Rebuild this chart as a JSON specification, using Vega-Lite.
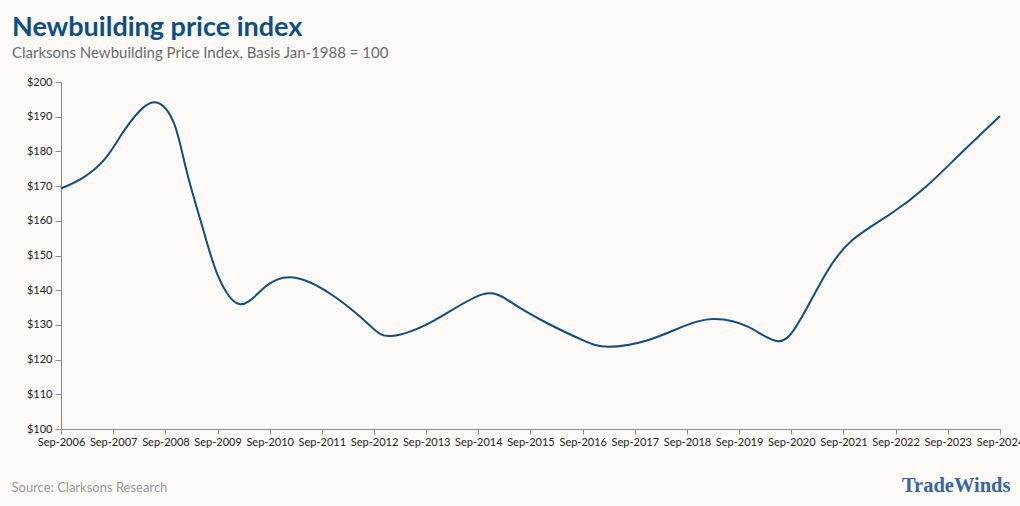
{
  "$schema": "https://vega.github.io/schema/vega-lite/v6.json",
  "autosize": {"type": "none"},
  "width": 939,
  "height": 347,
  "padding": {"left": 61, "top": 82, "right": 20, "bottom": 77},
  "background": "#fdf9f7",
  "title": {
    "text": "Newbuilding price index",
    "subtitle": "Clarksons Newbuilding Price Index, Basis Jan-1988 = 100",
    "anchor": "start",
    "frame": "group",
    "dx": -49,
    "offset": 14,
    "font": "Lato",
    "fontSize": 27,
    "fontWeight": "bold",
    "color": "#0b4f84",
    "subtitleFont": "Lato",
    "subtitleFontSize": 15,
    "subtitleColor": "#6b6b6b",
    "subtitlePadding": 4
  },
  "data": {
    "values": [
      {"date": "2006-09-01T00:00:00", "index": 169.3},
      {"date": "2007-02-01T00:00:00", "index": 172.4},
      {"date": "2007-07-01T00:00:00", "index": 177.6},
      {"date": "2007-11-01T00:00:00", "index": 185.0},
      {"date": "2008-03-01T00:00:00", "index": 191.5},
      {"date": "2008-07-01T00:00:00", "index": 194.1},
      {"date": "2008-11-01T00:00:00", "index": 188.0},
      {"date": "2009-02-01T00:00:00", "index": 173.6},
      {"date": "2009-06-01T00:00:00", "index": 156.3},
      {"date": "2009-09-01T00:00:00", "index": 144.5},
      {"date": "2010-02-01T00:00:00", "index": 136.0},
      {"date": "2010-08-01T00:00:00", "index": 141.0},
      {"date": "2011-03-01T00:00:00", "index": 143.6},
      {"date": "2011-12-01T00:00:00", "index": 138.1},
      {"date": "2012-08-01T00:00:00", "index": 129.9},
      {"date": "2013-01-01T00:00:00", "index": 126.8},
      {"date": "2013-11-01T00:00:00", "index": 131.4},
      {"date": "2014-10-01T00:00:00", "index": 138.8},
      {"date": "2015-05-01T00:00:00", "index": 136.2},
      {"date": "2016-01-01T00:00:00", "index": 130.4},
      {"date": "2016-09-01T00:00:00", "index": 125.6},
      {"date": "2017-03-01T00:00:00", "index": 123.7},
      {"date": "2017-12-01T00:00:00", "index": 125.6},
      {"date": "2018-08-01T00:00:00", "index": 129.5},
      {"date": "2019-03-01T00:00:00", "index": 131.7},
      {"date": "2019-11-01T00:00:00", "index": 129.5},
      {"date": "2020-06-01T00:00:00", "index": 125.3},
      {"date": "2020-11-01T00:00:00", "index": 131.4},
      {"date": "2021-05-01T00:00:00", "index": 144.8},
      {"date": "2021-11-01T00:00:00", "index": 154.4},
      {"date": "2022-08-01T00:00:00", "index": 162.1},
      {"date": "2023-04-01T00:00:00", "index": 169.8},
      {"date": "2023-12-01T00:00:00", "index": 179.4},
      {"date": "2024-09-01T00:00:00", "index": 190.2}
    ]
  },
  "config": {
    "view": {"stroke": null},
    "axis": {
      "grid": false,
      "domainColor": "#8a8a8a",
      "tickColor": "#8a8a8a",
      "labelColor": "#222222",
      "labelFont": "Lato",
      "labelFontSize": 11
    }
  },
  "resolve": {"axis": {"y": "independent"}},
  "layer": [
    {
      "mark": {"type": "line", "interpolate": "natural", "color": "#0e4e80", "strokeWidth": 2},
      "encoding": {
        "x": {
          "field": "date",
          "type": "temporal",
          "scale": {"domain": [{"year": 2006, "month": 9, "date": 1}, {"year": 2024, "month": 9, "date": 1}], "nice": false},
          "axis": {
            "values": [
              {"year": 2006, "month": 9, "date": 1}, {"year": 2007, "month": 9, "date": 1}, {"year": 2008, "month": 9, "date": 1},
              {"year": 2009, "month": 9, "date": 1}, {"year": 2010, "month": 9, "date": 1}, {"year": 2011, "month": 9, "date": 1},
              {"year": 2012, "month": 9, "date": 1}, {"year": 2013, "month": 9, "date": 1}, {"year": 2014, "month": 9, "date": 1},
              {"year": 2015, "month": 9, "date": 1}, {"year": 2016, "month": 9, "date": 1}, {"year": 2017, "month": 9, "date": 1},
              {"year": 2018, "month": 9, "date": 1}, {"year": 2019, "month": 9, "date": 1}, {"year": 2020, "month": 9, "date": 1},
              {"year": 2021, "month": 9, "date": 1}, {"year": 2022, "month": 9, "date": 1}, {"year": 2023, "month": 9, "date": 1},
              {"year": 2024, "month": 9, "date": 1}
            ],
            "format": "%b-%Y",
            "labelAngle": 0,
            "labelFlush": false,
            "labelOverlap": false,
            "tickSize": 5,
            "labelPadding": 2,
            "title": "Source: Clarksons Research",
            "titleFont": "Lato",
            "titleFontSize": 13,
            "titleFontWeight": "normal",
            "titleColor": "#9a9a9a",
            "titleAnchor": "start",
            "titleAlign": "left",
            "titleBaseline": "alphabetic",
            "titleX": -50,
            "titleY": 62
          }
        },
        "y": {
          "field": "index",
          "type": "quantitative",
          "scale": {"domain": [100, 200], "nice": false, "zero": false},
          "axis": {
            "values": [100, 110, 120, 130, 140, 150, 160, 170, 180, 190, 200],
            "format": "$.0f",
            "tickSize": 6,
            "labelPadding": 3,
            "title": null
          }
        }
      }
    },
    {
      "mark": {"type": "line", "interpolate": "natural", "strokeOpacity": 0},
      "encoding": {
        "x": {"field": "date", "type": "temporal"},
        "y": {
          "field": "index",
          "type": "quantitative",
          "axis": {
            "orient": "right",
            "labels": false,
            "ticks": false,
            "domain": false,
            "title": "TradeWinds",
            "titleAngle": 0,
            "titleFont": "Liberation Serif",
            "titleFontSize": 20.5,
            "titleFontWeight": "bold",
            "titleColor": "#3566a6",
            "titleAlign": "right",
            "titleBaseline": "alphabetic",
            "titleX": 10,
            "titleY": 409
          }
        }
      }
    }
  ]
}
